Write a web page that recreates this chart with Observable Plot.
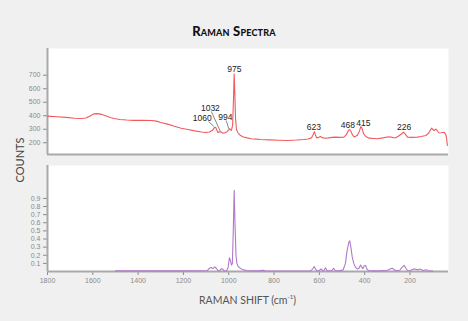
<!DOCTYPE html>
<html>
<head>
<meta charset="utf-8">
<script src="https://cdn.jsdelivr.net/npm/d3@7"></script>
<script src="https://cdn.jsdelivr.net/npm/@observablehq/plot@0.6"></script>
<style>
  body { margin: 0; background: #f0f0f0; }
  #wrap { position: relative; width: 468px; height: 321px; overflow: hidden; background: #f0f0f0;
          font-family: "Liberation Sans", Arial, sans-serif; }
  #title { position: absolute; top: 22px; left: 0; width: 468px; text-align: center; line-height: 18px;
           font-family: Lato, "Liberation Sans", sans-serif; font-weight: 900; font-size: 13px;
           font-variant: small-caps; color: #111; letter-spacing: 0.2px; }
  #ylab { position: absolute; left: 19.5px; top: 160px; transform: translate(-50%, -50%) rotate(-90deg);
          font-family: Lato, "Liberation Sans", sans-serif; font-size: 11px; color: #444; white-space: nowrap; line-height: 12px; }
  #xlab { position: absolute; left: 0; width: 495px; top: 290px; text-align: center; line-height: 14px;
          font-family: Lato, "Liberation Sans", sans-serif; font-size: 10.5px; color: #555; }
  .panel { position: absolute; left: 0; }
  #top { top: 44px; }
  #bot { top: 160px; }
</style>
</head>
<body>
<div id="wrap">
  <div id="title">Raman Spectra</div>
  <div id="ylab">COUNTS</div>
  <div id="xlab">RAMAN SHIFT (cm<sup style="font-size:6px">-1</sup>)</div>
  <div id="top" class="panel"></div>
  <div id="bot" class="panel"></div>
</div>
<script>
// ---- data ----
const xDomain = [1800, 30];
const xTicks = [1800, 1600, 1400, 1200, 1000, 800, 600, 400, 200];
const topYDomain = [113, 898];
const topYTicks = [200, 300, 400, 500, 600, 700];
const botYDomain = [0, 1.305];
const botYTicks = [0.1, 0.2, 0.3, 0.4, 0.5, 0.6, 0.7, 0.8, 0.9];

const topShift = [1800,1760,1720,1680,1650,1630,1610,1595,1580,1560,1540,1520,1500,1480,1450,1420,1380,1340,1320,1300,1270,1240,1210,1180,1150,1120,1100,1085,1072,1063,1058,1054,1048,1040,1034,1027,1018,1008,1000,996,992,988,983,979,976,973,970,966,960,950,935,919,900,880,860,820,780,740,700,670,650,635,627,622,617,612,603,595,588,575,560,545,528,510,492,482,474,468,462,455,447,440,432,424,417,412,405,395,381,360,344,320,300,290,275,263,250,238,229,220,211,190,167,150,130,118,108,104,98,94,88,85,78,72,62,50,42,38,35];
const topCounts = [397,393,388,382,380,383,400,414,416,410,398,385,378,372,368,366,366,365,360,350,338,322,308,298,288,280,276,280,292,312,315,300,276,282,280,271,272,282,296,304,296,292,330,520,710,560,380,300,276,256,243,236,230,227,224,221,219,217,220,224,228,236,262,282,255,236,240,246,238,233,236,240,242,240,242,258,284,297,290,262,243,248,256,282,320,308,268,246,234,232,230,236,242,244,238,237,250,265,278,262,242,240,242,246,254,270,300,308,296,291,298,301,285,272,274,278,262,230,180];

const botShift = [1500,1400,1300,1200,1120,1095,1085,1078,1070,1062,1055,1048,1040,1032,1027,1020,1010,1003,997,993,988,984,980,976,972,968,964,960,954,946,935,920,900,870,848,840,800,700,640,630,623,617,610,600,592,585,580,573,566,545,537,530,510,495,485,478,470,466,461,455,448,440,432,425,418,412,408,402,396,390,383,360,330,300,285,278,270,260,245,235,226,218,210,200,190,182,175,165,158,150,140,133,126,118,100];
const botIntensity = [0.008,0.008,0.008,0.008,0.009,0.012,0.04,0.05,0.035,0.058,0.04,0.012,0.01,0.035,0.03,0.008,0.006,0.05,0.17,0.14,0.08,0.1,0.5,1.0,0.55,0.2,0.1,0.07,0.05,0.035,0.02,0.012,0.008,0.008,0.014,0.008,0.007,0.007,0.008,0.03,0.062,0.03,0.008,0.012,0.032,0.01,0.012,0.045,0.01,0.01,0.04,0.01,0.008,0.02,0.1,0.25,0.36,0.378,0.3,0.18,0.1,0.05,0.03,0.04,0.08,0.05,0.035,0.07,0.075,0.03,0.01,0.008,0.008,0.015,0.035,0.04,0.02,0.01,0.015,0.05,0.075,0.04,0.012,0.01,0.025,0.032,0.028,0.02,0.03,0.025,0.01,0.018,0.02,0.008,0.005];

const peakLabels = ["975", "1060", "1032", "994", "623", "468", "415", "226"];
const labelShift = [975, 1117, 1081, 1015, 624, 474, 406, 226];
const labelCounts = [743, 385, 459, 390, 316, 328, 348, 316];

const leaderFromShift = [1089, 1077, 1011];
const leaderFromCounts = [357, 432, 365];
const leaderToShift = [1066, 1037, 1000];
const leaderToCounts = [321, 284, 304];

// ---- build tables ----
const topData = topShift.map((s, i) => ({shift: s, counts: topCounts[i]}));
const botData = botShift.map((s, i) => ({shift: s, v: botIntensity[i]}));
const labels = peakLabels.map((t, i) => ({text: t, shift: labelShift[i], counts: labelCounts[i]}));
const leaders = leaderFromShift.map((s, i) => ({x1: s, y1: leaderFromCounts[i], x2: leaderToShift[i], y2: leaderToCounts[i]}));

const axisGray = "#a9a9a9";
const common = {
  width: 468,
  marginLeft: 47,
  marginRight: 20,
  style: {background: "transparent", fontFamily: "'Liberation Sans', Arial, sans-serif", fontSize: "7px", color: "#8a8a8a", overflow: "visible"}
};

const topPlot = Plot.plot({
  ...common,
  height: 114,
  marginTop: 4,
  marginBottom: 4,
  x: {domain: xDomain, axis: null},
  y: {domain: topYDomain, ticks: topYTicks, tickSize: 4, tickPadding: 3, label: null},
  marks: [
    Plot.frame({fill: "white", stroke: null}),
    Plot.ruleX([xDomain[0]], {stroke: axisGray, strokeWidth: 2}),
    Plot.ruleY([topYDomain[0]], {stroke: axisGray, strokeWidth: 2}),
    Plot.line(topData, {x: "shift", y: "counts", stroke: "#f05a5e", strokeWidth: 1.1}),
    Plot.link(leaders, {x1: "x1", y1: "y1", x2: "x2", y2: "y2", stroke: "#555", strokeWidth: 0.7}),
    Plot.text(labels, {x: "shift", y: "counts", text: "text", fill: "#222", fontSize: 8.5})
  ]
});
document.getElementById("top").appendChild(topPlot);

const botPlot = Plot.plot({
  ...common,
  height: 130,
  marginTop: 5,
  marginBottom: 19,
  x: {domain: xDomain, ticks: xTicks, tickSize: 4, tickPadding: 3, label: null, tickFormat: d => String(d)},
  y: {domain: botYDomain, ticks: botYTicks, tickSize: 4, tickPadding: 3, label: null, tickFormat: d => String(d)},
  marks: [
    Plot.frame({fill: "white", stroke: null}),
    Plot.ruleX([xDomain[0]], {stroke: axisGray, strokeWidth: 2}),
    Plot.ruleY([botYDomain[0]], {stroke: axisGray, strokeWidth: 2}),
    Plot.line(botData, {x: "shift", y: "v", stroke: "#b07acb", strokeWidth: 1.1})
  ]
});
document.getElementById("bot").appendChild(botPlot);
</script>
</body>
</html>
